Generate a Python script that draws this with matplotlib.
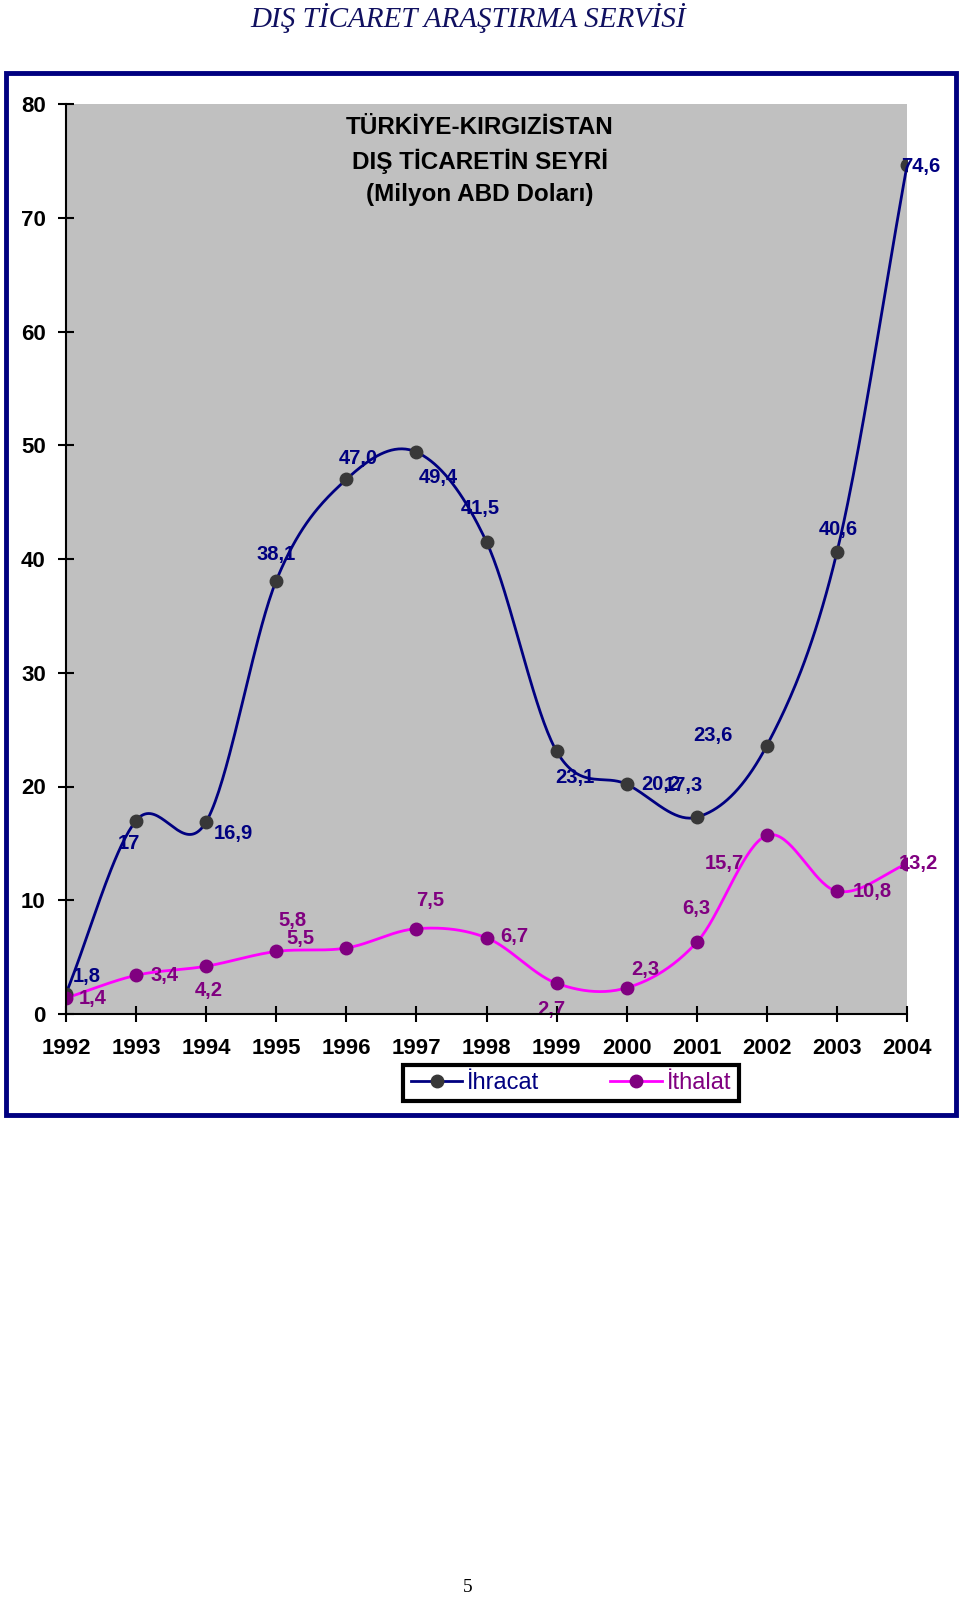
import numpy as np
import matplotlib
matplotlib.use('Agg')
import matplotlib.pyplot as plt
from matplotlib.lines import Line2D
from matplotlib.patches import Rectangle

years = [1992, 1993, 1994, 1995, 1996, 1997, 1998, 1999, 2000, 2001, 2002, 2003, 2004]
ihracat = [1.8, 17, 16.9, 38.1, 47.0, 49.4, 41.5, 23.1, 20.2, 17.3, 23.6, 40.6, 74.6]
ithalat = [1.4, 3.4, 4.2, 5.5, 5.8, 7.5, 6.7, 2.7, 2.3, 6.3, 15.7, 10.8, 13.2]
ihr_labels = ['1,8', '17', '16,9', '38,1', '47,0', '49,4', '41,5', '23,1', '20,2', '17,3', '23,6', '40,6', '74,6']
ith_labels = ['1,4', '3,4', '4,2', '5,5', '5,8', '7,5', '6,7', '2,7', '2,3', '6,3', '15,7', '10,8', '13,2']

# label offsets in pixels (Excel placed them a bit oddly)
ihr_off = [(21, 17), (-7, -23), (27, -12), (0, 26), (12, 21), (22, -25), (-6, 33),
           (18, -26), (34, 0), (-13, 32), (-54, 10), (1, 23), (14, -1)]
ith_off = [(27, 0), (28, 0), (3, -24), (24, 13), (-54, 28), (14, 28), (28, 1),
           (-5, -26), (19, 18), (0, 34), (-42, -28), (35, 0), (11, 0)]

NAVY = '#000080'
PURPLE = '#800080'
MAGENTA = '#FF00FF'


def smooth(x, y, n=40):
    # catmull-rom curve through the points, like excel's smoothed line
    x = np.asarray(x, float)
    y = np.asarray(y, float)
    px = np.concatenate([[2 * x[0] - x[1]], x, [2 * x[-1] - x[-2]]])
    py = np.concatenate([[2 * y[0] - y[1]], y, [2 * y[-1] - y[-2]]])
    xs, ys = [], []
    t = np.linspace(0, 1, n)
    for i in range(1, len(px) - 2):
        for p, out in ((px, xs), (py, ys)):
            p0, p1, p2, p3 = p[i - 1], p[i], p[i + 1], p[i + 2]
            out.extend(0.5 * ((2 * p1) + (-p0 + p2) * t + (2 * p0 - 5 * p1 + 4 * p2 - p3) * t ** 2
                              + (-p0 + 3 * p1 - 3 * p2 + p3) * t ** 3))
    return np.array(xs), np.array(ys)


plt.rcParams['font.family'] = ['Liberation Sans', 'DejaVu Sans']

fig = plt.figure(figsize=(9.6, 15.98), dpi=100)
ax = fig.add_axes([66 / 960, 1 - 1014 / 1598, 841 / 960, 910 / 1598])
ax.set_facecolor('#C0C0C0')

sx, sy = smooth(years, ihracat)
ax.plot(sx, sy, color=NAVY, lw=2, zorder=3)
ax.plot(years, ihracat, 'o', color='#383838', ms=9, zorder=4)
sx, sy = smooth(years, ithalat)
ax.plot(sx, sy, color=MAGENTA, lw=2, zorder=3)
ax.plot(years, ithalat, 'o', color=PURPLE, ms=9, zorder=4)

for x, y, s, o in zip(years, ihracat, ihr_labels, ihr_off):
    ax.annotate(s, (x, y), xytext=o, textcoords='offset pixels', ha='center', va='center',
                fontsize=14.5, fontweight='bold', color=NAVY, zorder=5, annotation_clip=False)
for x, y, s, o in zip(years, ithalat, ith_labels, ith_off):
    ax.annotate(s, (x, y), xytext=o, textcoords='offset pixels', ha='center', va='center',
                fontsize=14.5, fontweight='bold', color=PURPLE, zorder=5, annotation_clip=False)

ax.set_xlim(1992, 2004)
ax.set_ylim(0, 80)
ax.set_xticks(years)
ax.set_yticks(range(0, 81, 10))
ax.tick_params(direction='inout', length=11, width=1.5, labelsize=16, colors='black')
ax.tick_params(axis='x', pad=12)
ax.tick_params(axis='y', pad=9)
for lab in ax.get_xticklabels() + ax.get_yticklabels():
    lab.set_fontweight('bold')
for sp in ['top', 'right']:
    ax.spines[sp].set_visible(False)
for sp in ['left', 'bottom']:
    ax.spines[sp].set_linewidth(1.5)
    ax.spines[sp].set_zorder(6)

ax.text(0.492, 0.987, 'TÜRKİYE-KIRGIZİSTAN\nDIŞ TİCARETİN SEYRİ\n(Milyon ABD Doları)',
        transform=ax.transAxes, ha='center', va='top', fontsize=17.5, fontweight='bold',
        linespacing=1.5)

handles = [Line2D([], [], color=NAVY, lw=2, marker='o', mfc='#383838', mec='#383838', ms=9),
           Line2D([], [], color=MAGENTA, lw=2, marker='o', mfc=PURPLE, mec=PURPLE, ms=9)]
leg = fig.legend(handles, ['İhracat', 'İthalat'], loc='center', bbox_to_anchor=(571 / 960, 1 - 1083 / 1598),
                 ncol=2, fancybox=False, edgecolor='black', framealpha=1, handlelength=2.2,
                 handletextpad=0.2, columnspacing=3.0, borderpad=0.3,
                 prop={'size': 17}, labelcolor=[NAVY, PURPLE])
leg.get_frame().set_linewidth(3)

fig.patches.append(Rectangle((6 / 960, 1 - 1115 / 1598), 950 / 960, 1042 / 1598, transform=fig.transFigure,
                             fill=False, edgecolor=NAVY, lw=3.5))

fig.text(0.488, 1 - 18 / 1598, 'DIŞ TİCARET ARAŞTIRMA SERVİSİ', ha='center', va='center',
         fontsize=21, style='italic', family='Liberation Serif', color='#101060')
fig.text(0.487, 1 - 1587 / 1598, '5', ha='center', va='center', fontsize=14, family='Liberation Serif')

fig.savefig('out.png', dpi=100)
